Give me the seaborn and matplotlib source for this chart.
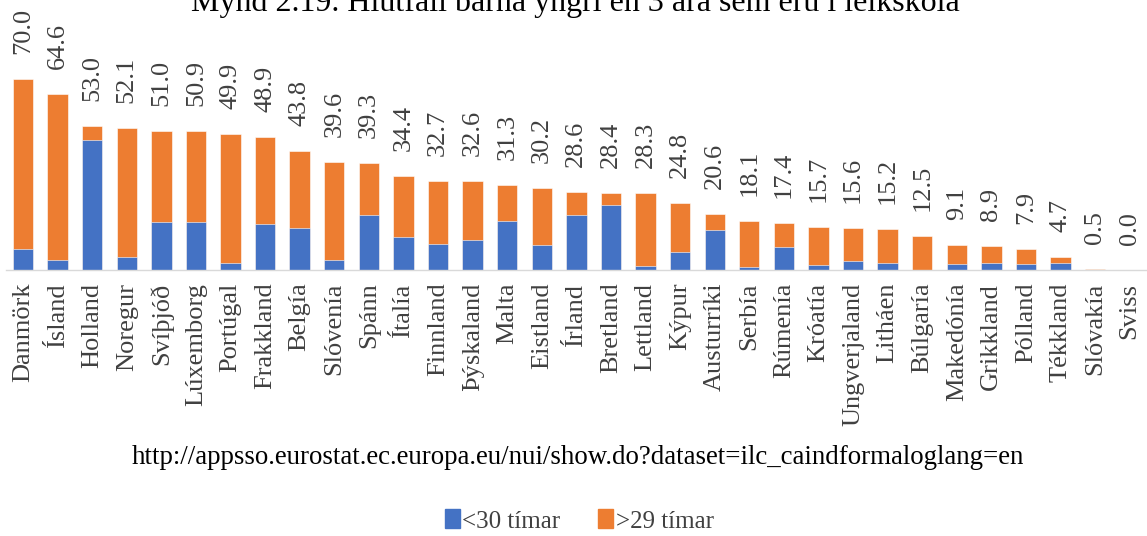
import numpy as np
import pandas as pd
import seaborn as sns
import matplotlib.pyplot as plt
from matplotlib.patches import Patch

# lönd, heildarhlutfall og hlutfall <30 tíma
countries = ['Danmörk', 'Ísland', 'Holland', 'Noregur', 'Svíþjóð', 'Lúxemborg', 'Portúgal',
             'Frakkland', 'Belgía', 'Slóvenía', 'Spánn', 'Ítalía', 'Finnland', 'Þýskaland',
             'Malta', 'Eistland', 'Írland', 'Bretland', 'Lettland', 'Kýpur', 'Austurríki',
             'Serbía', 'Rúmenía', 'Króatía', 'Ungverjaland', 'Litháen', 'Búlgaría',
             'Makedónía', 'Grikkland', 'Pólland', 'Tékkland', 'Slóvakía', 'Sviss']
total = [70.0, 64.6, 53.0, 52.1, 51.0, 50.9, 49.9, 48.9, 43.8, 39.6, 39.3, 34.4, 32.7, 32.6,
         31.3, 30.2, 28.6, 28.4, 28.3, 24.8, 20.6, 18.1, 17.4, 15.7, 15.6, 15.2, 12.5,
         9.1, 8.9, 7.9, 4.7, 0.5, 0.0]
under30 = [7.6, 3.6, 47.7, 5.0, 17.5, 17.8, 2.6, 17.1, 15.3, 3.9, 20.4, 12.0, 9.6, 11.1,
           18.1, 9.2, 20.4, 23.9, 1.5, 6.7, 14.8, 1.2, 8.4, 1.8, 3.3, 2.6, 0.0,
           2.1, 2.6, 2.1, 2.8, 0.0, 0.0]

BLUE = '#4472C4'
ORANGE = '#ED7D31'

df = pd.DataFrame({'land': countries, 'total': total, 'under30': under30})

sns.set_style('white')
plt.rcParams['font.family'] = ['Liberation Serif', 'DejaVu Serif']

fig = plt.figure(figsize=(11.47, 5.36), dpi=100)
ax = fig.add_axes([0.005, 0.496, 0.995, 0.407])

# heildin í appelsínugulu, svo <30 tímar ofan á
sns.barplot(data=df, x='land', y='total', color=ORANGE, width=0.59, ax=ax,
            edgecolor='white', linewidth=0.4, saturation=1)
sns.barplot(data=df, x='land', y='under30', color=BLUE, width=0.59, ax=ax,
            edgecolor='white', linewidth=0.4, saturation=1)

for i, v in enumerate(total):
    ax.annotate('{:.1f}'.format(v), (i, v), xytext=(0, 18), textcoords='offset points',
                rotation=90, ha='center', va='bottom', fontsize=19, color='#404040')

ax.set_ylim(0, 80)
ax.set_xlim(-0.5, len(countries) - 0.5)
ax.set_xlabel('')
ax.set_ylabel('')
ax.set_yticks([])
ax.tick_params(axis='x', length=0, pad=9, labelsize=19, labelcolor='#404040')
plt.setp(ax.get_xticklabels(), rotation=90, ha='center', va='top')
for s in ['top', 'right', 'left']:
    ax.spines[s].set_visible(False)
ax.spines['bottom'].set_color('#D9D9D9')
ax.spines['bottom'].set_linewidth(1)

fig.text(0.502, 1 - 11 / 536, 'Mynd 2.19. Hlutfall barna yngri en 3 ára sem eru í leikskóla',
         ha='center', va='baseline', fontsize=23, color='black')
fig.text(0.504, 1 - 457 / 536,
         'http://appsso.eurostat.ec.europa.eu/nui/show.do?dataset=ilc_caindformaloglang=en',
         ha='center', va='center', fontsize=19.4, color='black')

handles = [Patch(color=BLUE), Patch(color=ORANGE)]
fig.legend(handles, ['<30 tímar', '>29 tímar'], loc='center', bbox_to_anchor=(0.505, 0.028),
           ncol=2, frameon=False, fontsize=18, handlelength=0.6, handleheight=0.8,
           handletextpad=0.1, columnspacing=1.5, labelcolor='#404040')

fig.savefig('out.png', dpi=100)
